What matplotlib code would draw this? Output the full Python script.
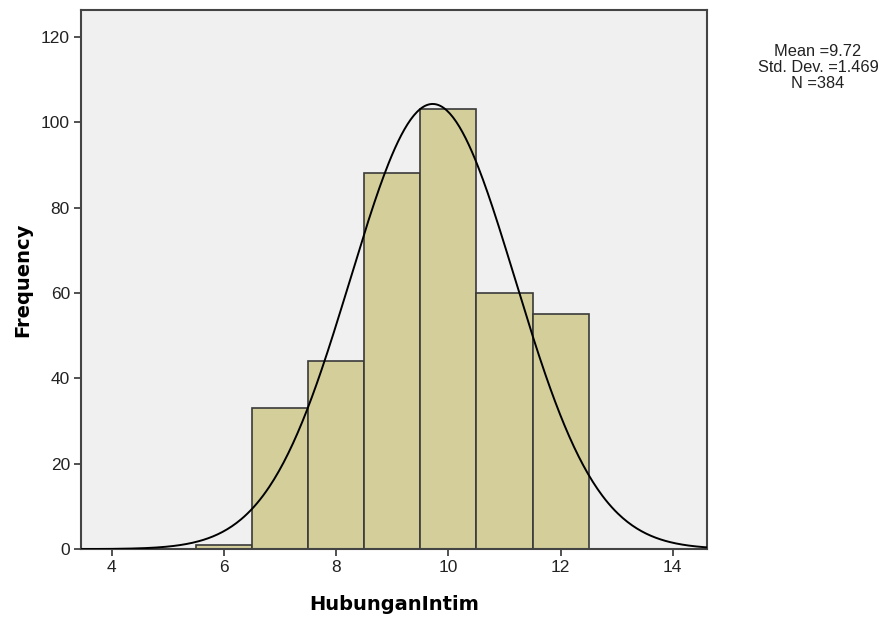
import matplotlib.pyplot as plt
import numpy as np

# histogram of HubunganIntim (bin centres and counts)
bin_centres = [6, 7, 8, 9, 10, 11, 12]
counts = [1, 33, 44, 88, 103, 60, 55]
mean_val = 9.72
std_val = 1.469
n_val = 384


def main():
    fig = plt.figure(figsize=(8.95, 6.24), dpi=100)
    ax = fig.add_axes([0.0905, 0.120, 0.700, 0.864])
    ax.set_facecolor("#f0f0f0")

    ax.bar(bin_centres, counts, width=1.0, color="#d3ce9a",
           edgecolor="#3a3a3a", linewidth=1.2, zorder=2)

    xs = np.linspace(3.45, 14.62, 400)
    ys = n_val * 1.0 / (std_val * np.sqrt(2 * np.pi)) * np.exp(-0.5 * ((xs - mean_val) / std_val) ** 2)
    ax.plot(xs, ys, color="black", linewidth=1.4, zorder=3)

    ax.set_xlim(3.45, 14.62)
    ax.set_ylim(0, 126.3)
    ax.set_xticks([4, 6, 8, 10, 12, 14])
    ax.set_yticks([0, 20, 40, 60, 80, 100, 120])
    ax.tick_params(direction="out", length=5, width=1.2, color="#333333",
                   labelsize=12.5, labelcolor="#222222", pad=3)
    for lab in ax.get_xticklabels() + ax.get_yticklabels():
        lab.set_family("Liberation Sans")
    for sp in ax.spines.values():
        sp.set_color("#444444")
        sp.set_linewidth(1.5)

    ax.set_xlabel("HubunganIntim", fontsize=14, fontweight="bold", labelpad=14)
    ax.set_ylabel("Frequency", fontsize=14, fontweight="bold", labelpad=6)

    fig.text(0.914, 0.892, "Mean =%.2f\nStd. Dev. =%.3f\nN =%d" % (mean_val, std_val, n_val),
             ha="center", va="center", fontsize=11.8, family="Liberation Sans",
             linespacing=1.08, color="#222222")

    fig.savefig("out.png", dpi=100)
    plt.close(fig)


if __name__ == "__main__":
    main()
